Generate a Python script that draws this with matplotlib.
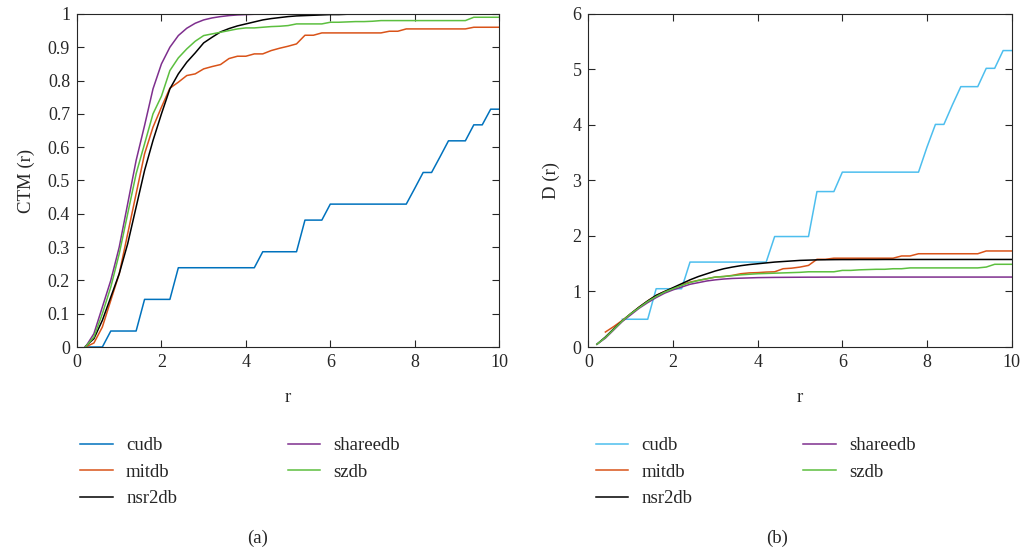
import numpy as np
import matplotlib
matplotlib.use('Agg')
import matplotlib.pyplot as plt

"""CTM(r) and D(r) curves for the five ECG databases"""

nan = np.nan

r = [0.2, 0.4, 0.6, 0.8, 1.0, 1.2, 1.4, 1.6, 1.8, 2.0,
     2.2, 2.4, 2.6, 2.8, 3.0, 3.2, 3.4, 3.6, 3.8, 4.0,
     4.2, 4.4, 4.6, 4.8, 5.0, 5.2, 5.4, 5.6, 5.8, 6.0,
     6.2, 6.4, 6.6, 6.8, 7.0, 7.2, 7.4, 7.6, 7.8, 8.0,
     8.2, 8.4, 8.6, 8.8, 9.0, 9.2, 9.4, 9.6, 9.8, 10.0]

labels = ['cudb', 'mitdb', 'nsr2db', 'shareedb', 'szdb']

# (a) CTM(r)
cudb_ctm = [0, 0, 0, 0.048, 0.048, 0.048, 0.048, 0.143, 0.143, 0.143,
            0.143, 0.238, 0.238, 0.238, 0.238, 0.238, 0.238, 0.238, 0.238, 0.238,
            0.238, 0.286, 0.286, 0.286, 0.286, 0.286, 0.381, 0.381, 0.381, 0.429,
            0.429, 0.429, 0.429, 0.429, 0.429, 0.429, 0.429, 0.429, 0.429, 0.476,
            0.524, 0.524, 0.571, 0.619, 0.619, 0.619, 0.667, 0.667, 0.714, 0.714]
mitdb_ctm = [0, 0.012, 0.06, 0.14, 0.22, 0.34, 0.46, 0.58, 0.66, 0.72,
             0.777, 0.795, 0.815, 0.82, 0.835, 0.842, 0.848, 0.866, 0.873, 0.873,
             0.88, 0.88, 0.89, 0.897, 0.903, 0.91, 0.936, 0.936, 0.943, 0.943,
             0.943, 0.943, 0.943, 0.943, 0.943, 0.943, 0.948, 0.948, 0.955, 0.955,
             0.955, 0.955, 0.955, 0.955, 0.955, 0.955, 0.96, 0.96, 0.96, 0.96]
nsr2db_ctm = [0.002, 0.025, 0.08, 0.15, 0.22, 0.31, 0.42, 0.53, 0.62, 0.70,
              0.775, 0.82, 0.855, 0.883, 0.913, 0.93, 0.946, 0.956, 0.964, 0.97,
              0.976, 0.982, 0.986, 0.989, 0.992, 0.994, 0.995, 0.996, 0.997, 0.998,
              0.998, 0.999, 0.999, 0.999, 0.999, 0.999, 0.999, 1.0, 1.0, 1.0,
              1.0, 1.0, 1.0, 1.0, 1.0, 1.0, 1.0, 1.0, 1.0, 1.0]
shareedb_ctm = [0.0, 0.04, 0.12, 0.20, 0.30, 0.43, 0.56, 0.665, 0.775, 0.85,
                0.90, 0.935, 0.957, 0.972, 0.982, 0.988, 0.992, 0.995, 0.997, 0.998,
                0.999, 0.999, 0.999, 1.0, 1.0, 1.0, 1.0, 1.0, 1.0, 1.0,
                1.0, 1.0, 1.0, 1.0, 1.0, 1.0, 1.0, 1.0, 1.0, 1.0,
                1.0, 1.0, 1.0, 1.0, 1.0, 1.0, 1.0, 1.0, 1.0, 1.0]
szdb_ctm = [0.0, 0.03, 0.10, 0.18, 0.28, 0.40, 0.52, 0.61, 0.70, 0.753,
            0.83, 0.868, 0.895, 0.918, 0.935, 0.94, 0.945, 0.95, 0.955, 0.958,
            0.958, 0.96, 0.962, 0.963, 0.965, 0.97, 0.97, 0.97, 0.97, 0.975,
            0.975, 0.976, 0.977, 0.977, 0.978, 0.98, 0.98, 0.98, 0.98, 0.98,
            0.98, 0.98, 0.98, 0.98, 0.98, 0.98, 0.99, 0.99, 0.99, 0.99]

# (b) D(r)
cudb_d = [nan, nan, nan, 0.5, 0.5, 0.5, 0.5, 1.05, 1.05, 1.05,
          1.05, 1.53, 1.53, 1.53, 1.53, 1.53, 1.53, 1.53, 1.53, 1.53,
          1.53, 1.99, 1.99, 1.99, 1.99, 1.99, 2.8, 2.8, 2.8, 3.15,
          3.15, 3.15, 3.15, 3.15, 3.15, 3.15, 3.15, 3.15, 3.15, 3.6,
          4.01, 4.01, 4.36, 4.69, 4.69, 4.69, 5.02, 5.02, 5.34, 5.34]
mitdb_d = [nan, 0.27, 0.37, 0.48, 0.60, 0.72, 0.83, 0.93, 1.0, 1.06,
           1.12, 1.17, 1.2, 1.23, 1.26, 1.27, 1.29, 1.32, 1.335, 1.34,
           1.35, 1.355, 1.41, 1.42, 1.44, 1.47, 1.58, 1.58, 1.6, 1.6,
           1.6, 1.6, 1.6, 1.6, 1.6, 1.6, 1.64, 1.64, 1.68, 1.68,
           1.68, 1.68, 1.68, 1.68, 1.68, 1.68, 1.73, 1.73, 1.73, 1.73]
nsr2db_d = [0.05, 0.18, 0.33, 0.47, 0.60, 0.72, 0.83, 0.93, 1.0, 1.07,
            1.14, 1.21, 1.27, 1.32, 1.37, 1.41, 1.44, 1.465, 1.485, 1.5,
            1.515, 1.53, 1.54, 1.55, 1.56, 1.565, 1.57, 1.572, 1.574, 1.575,
            1.575, 1.576, 1.576, 1.576, 1.577, 1.577, 1.577, 1.577, 1.577, 1.577,
            1.577, 1.577, 1.577, 1.577, 1.577, 1.577, 1.577, 1.577, 1.577, 1.577]
shareedb_d = [0.05, 0.16, 0.31, 0.46, 0.58, 0.70, 0.80, 0.89, 0.97, 1.03,
              1.08, 1.13, 1.16, 1.19, 1.21, 1.225, 1.235, 1.24, 1.245, 1.25,
              1.252, 1.254, 1.255, 1.256, 1.257, 1.258, 1.258, 1.259, 1.259, 1.26,
              1.26, 1.26, 1.26, 1.26, 1.26, 1.26, 1.26, 1.26, 1.26, 1.26,
              1.26, 1.26, 1.26, 1.26, 1.26, 1.26, 1.26, 1.26, 1.26, 1.26]
szdb_d = [0.05, 0.17, 0.32, 0.47, 0.60, 0.71, 0.82, 0.91, 0.99, 1.05,
          1.11, 1.16, 1.2, 1.23, 1.26, 1.27, 1.285, 1.3, 1.31, 1.32,
          1.325, 1.33, 1.335, 1.34, 1.345, 1.355, 1.355, 1.355, 1.355, 1.38,
          1.38, 1.39, 1.395, 1.4, 1.4, 1.41, 1.41, 1.425, 1.425, 1.425,
          1.425, 1.425, 1.425, 1.425, 1.425, 1.425, 1.44, 1.49, 1.49, 1.49]

colors_a = ['#0072BD', '#D95319', '#000000', '#7E2F8E', '#5CBF3F']
colors_b = ['#4DBEEE', '#D95319', '#000000', '#7E2F8E', '#5CBF3F']

plt.rcParams['font.family'] = ['Liberation Serif', 'DejaVu Serif']
plt.rcParams['font.size'] = 13
text_color = '#262626'

fig = plt.figure(figsize=(10.27, 5.57), dpi=100)
ax_a = fig.add_axes([0.075, 0.377, 0.411, 0.598])
ax_b = fig.add_axes([0.573, 0.377, 0.412, 0.598])


def style_axes(ax, ylim, yticks, ytick_labels, ylabel):
    ax.set_xlim(0, 10)
    ax.set_ylim(*ylim)
    ax.set_xticks([0, 2, 4, 6, 8, 10])
    ax.set_yticks(yticks)
    ax.set_yticklabels(ytick_labels)
    ax.tick_params(direction='in', top=True, right=True, length=5, width=0.8,
                   colors=text_color, labelsize=13, pad=5)
    for sp in ax.spines.values():
        sp.set_linewidth(0.8)
        sp.set_color('#262626')
    ax.set_xlabel('r', color=text_color, fontsize=13.5, labelpad=13)
    ax.set_ylabel(ylabel, color=text_color, fontsize=13.5, labelpad=9)


series_a = [cudb_ctm, mitdb_ctm, nsr2db_ctm, shareedb_ctm, szdb_ctm]
series_b = [cudb_d, mitdb_d, nsr2db_d, shareedb_d, szdb_d]

for vals, c, lab in zip(series_a, colors_a, labels):
    ax_a.plot(r, vals, color=c, lw=1.1, label=lab)
for vals, c, lab in zip(series_b, colors_b, labels):
    ax_b.plot(r, vals, color=c, lw=1.1, label=lab)

ytick_a = [0, 0.1, 0.2, 0.3, 0.4, 0.5, 0.6, 0.7, 0.8, 0.9, 1]
style_axes(ax_a, (0, 1), ytick_a, ['0'] + [f'{v:.1f}' for v in ytick_a[1:-1]] + ['1'], 'CTM (r)')
style_axes(ax_b, (0, 6), [0, 1, 2, 3, 4, 5, 6], ['0', '1', '2', '3', '4', '5', '6'], 'D (r)')

for ax, x0 in [(ax_a, 0.078), (ax_b, 0.580)]:
    leg = ax.legend(loc='upper left', bbox_to_anchor=(x0, 0.215), bbox_transform=fig.transFigure,
                    ncol=2, frameon=False, fontsize=13.5, handlelength=1.75, handletextpad=0.7,
                    columnspacing=5.9, labelspacing=0.5, borderaxespad=0, borderpad=0)
    for t in leg.get_texts():
        t.set_color(text_color)

fig.text(0.251, 0.034, '(a)', ha='center', va='center', fontsize=13.5, color=text_color)
fig.text(0.757, 0.034, '(b)', ha='center', va='center', fontsize=13.5, color=text_color)

fig.savefig('out.png', dpi=100)
